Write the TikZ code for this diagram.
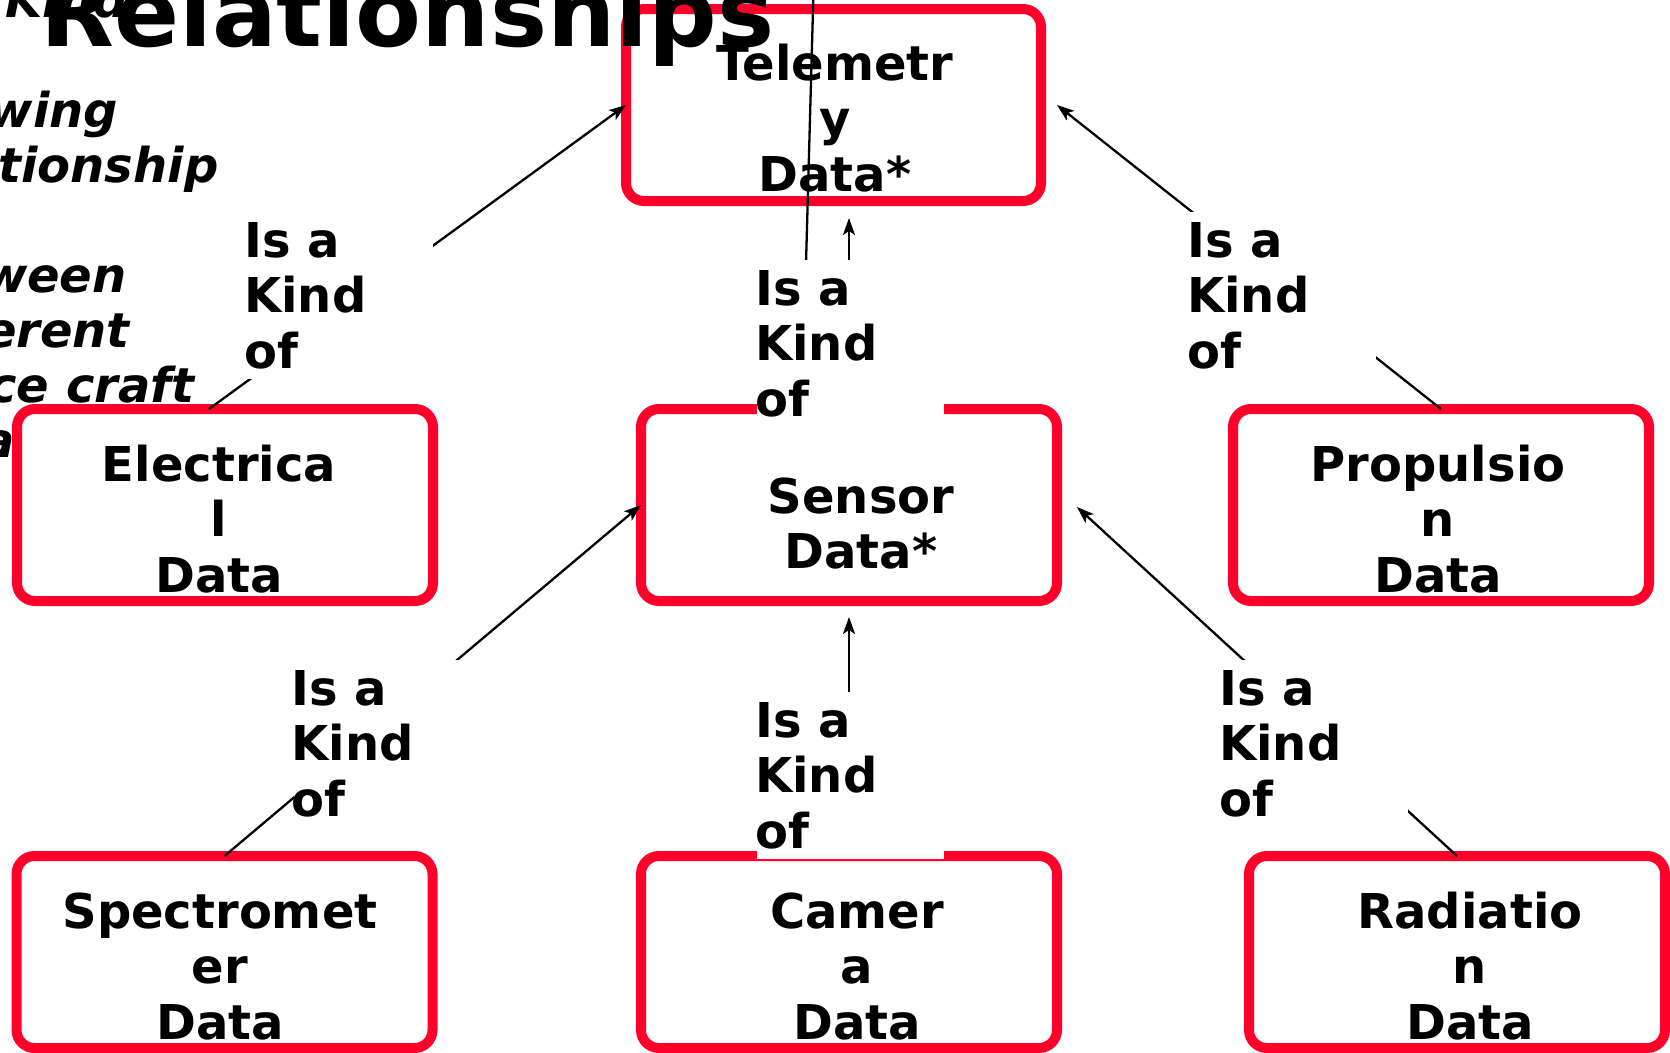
\documentclass[tikz,border=0pt]{standalone}
\usepackage{fontspec}
\setmainfont{DejaVu Sans}
\usetikzlibrary{arrows.meta,calc}
\definecolor{boxred}{RGB}{255,0,42}
\newcommand\ctrlines[1]{\vtop{\baselineskip=55.5pt\lineskiplimit=-200pt\halign{\hfil##\hfil\cr#1\crcr}}}
\newcommand\lftlines[1]{\vtop{\baselineskip=55.5pt\lineskiplimit=-200pt\halign{##\hfil\cr#1\crcr}}}
\newcommand\notelines[1]{\vtop{\baselineskip=55pt\lineskiplimit=-200pt\halign{##\hfil\cr#1\crcr}}}
\tikzset{
  dbox/.style={draw=boxred, line width=10pt, rounded corners=18pt, minimum width=416pt,
               minimum height=192pt, inner sep=0pt, outer sep=0pt},
  btxt/.style={inner sep=0pt, font=\bfseries\fontsize{48}{55.5}\selectfont, anchor=base},
  lbl/.style={fill=white, minimum width=187pt, minimum height=167pt, inner sep=0pt, outer sep=0pt},
  ltxt/.style={inner sep=0pt, font=\bfseries\fontsize{48}{55.5}\selectfont, anchor=base west},
  isakind/.style={line width=2.3pt, -{Stealth[length=17pt,width=12pt,inset=4pt]}},
  strayline/.style={line width=2.3pt},
}
\begin{document}
\begin{tikzpicture}[x=1pt,y=-1pt]
\useasboundingbox (0,0) rectangle (1670,1052);
\clip (0,0) rectangle (1670,1052);
% boxes
\node[dbox, minimum width=415pt] (tel) at (833.5,105) {};
\node[dbox] (ele) at (225,505) {};
\node[dbox] (sen) at (849,505) {};
\node[dbox] (pro) at (1441,505) {};
\node[dbox] (spe) at (224.5,952) {};
\node[dbox] (cam) at (849,952) {};
\node[dbox] (rad) at (1457,952) {};
% box texts
\node[btxt] (telT) at (835,80) {\ctrlines{Telemetr\cr y\cr Data*}};
\node[btxt] (eleT) at (219,481) {\ctrlines{Electrica\cr l\cr Data}};
\node[btxt] (senT) at (861,513) {\ctrlines{Sensor\cr Data*}};
\node[btxt] (proT) at (1438,481) {\ctrlines{Propulsio\cr n\cr Data}};
\node[btxt] (speT) at (220,928) {\ctrlines{Spectromet\cr er\cr Data}};
\node[btxt] (camT) at (857,928) {\ctrlines{Camer\cr a\cr Data}};
\node[btxt] (radT) at (1470,928) {\ctrlines{Radiatio\cr n\cr Data}};
% title and note
\node[anchor=base west, inner sep=0pt, font=\bfseries\fontsize{96}{110}\selectfont] (title) at (40,46) {Relationships};
\node[anchor=base west, inner sep=0pt, font=\bfseries\itshape\fontsize{48}{55}\selectfont] (note) at (-107,17)
  {\notelines{Is a Kind\cr of\cr showing\cr relationship\cr \cr between\cr different\cr space craft\cr data}};
% connector end points
\coordinate (t2) at ($(sen.north |- tel.south)+(0,17)$);
\coordinate (t3) at ($(tel.east)+(16,0)$);
\coordinate (t5) at ($(sen.south)+(0,16)$);
\coordinate (t6) at ($(sen.east)+(20,2)$);
\coordinate (e1) at ($(ele.north)+(-16,0)$);
\coordinate (s1) at (816,-100);
\coordinate (s2) at (802,409);
% connectors
\draw[isakind] (e1) -- (tel.west);
\draw[isakind] (sen.north) -- (t2);
\draw[isakind] (pro.north) -- (t3);
\draw[isakind] (spe.north) -- (sen.west);
\draw[isakind] (cam.north) -- (t5);
\draw[isakind] (rad.north) -- (t6);
\draw[strayline] (s2) -- (s1);
% labels
\node[lbl] (L1) at (339.5,295.5) {};
\node[lbl] (L2) at (850.5,343.5) {};
\node[lbl] (L3) at (1282.5,295.5) {};
\node[lbl] (L4) at (387,743.5) {};
\node[lbl] (L5) at (850.5,775.5) {};
\node[lbl] (L6) at (1314.5,743.5) {};
\node[ltxt] (L1t) at (244,257) {\lftlines{Is a\cr Kind\cr of}};
\node[ltxt] (L2t) at (755,305) {\lftlines{Is a\cr Kind\cr of}};
\node[ltxt] (L3t) at (1187,257) {\lftlines{Is a\cr Kind\cr of}};
\node[ltxt] (L4t) at (291.5,705) {\lftlines{Is a\cr Kind\cr of}};
\node[ltxt] (L5t) at (755,737) {\lftlines{Is a\cr Kind\cr of}};
\node[ltxt] (L6t) at (1219,705) {\lftlines{Is a\cr Kind\cr of}};
\end{tikzpicture}
\end{document}
